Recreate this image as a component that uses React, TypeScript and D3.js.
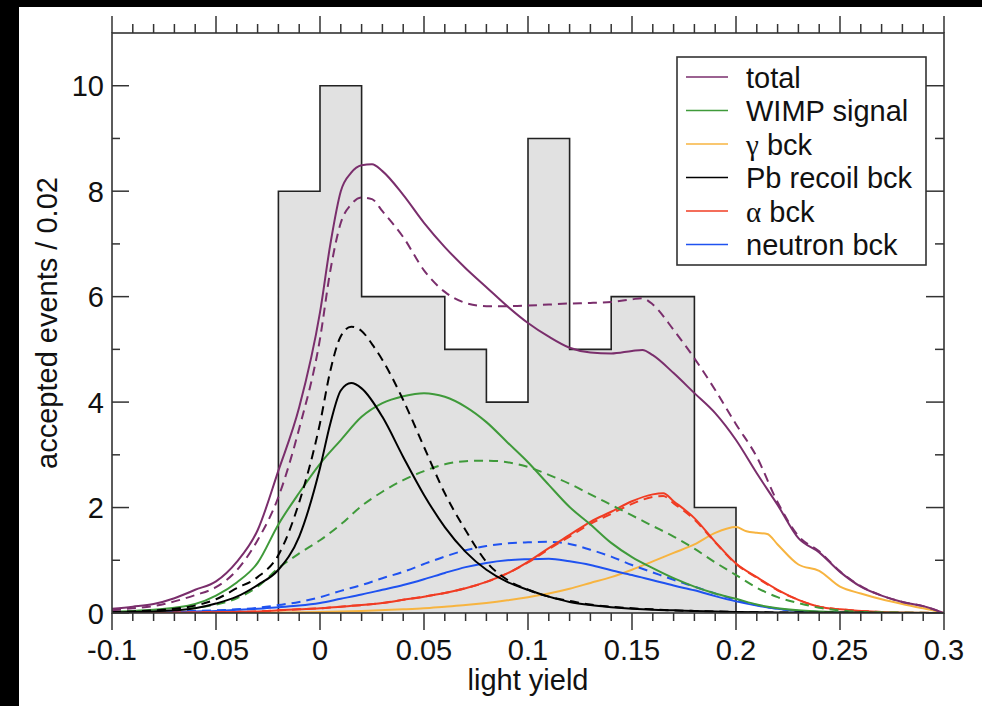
import React, { useEffect, useRef } from "react";
import * as d3 from "d3";

// histogram of accepted events (bin width 0.02)
const binEdges = [-0.02, 0, 0.02, 0.04, 0.06, 0.08, 0.1, 0.12, 0.14, 0.16, 0.18, 0.2];
const binCounts = [8, 10, 6, 6, 5, 4, 9, 5, 6, 6, 2];

type Pt = [number, number];

const totalSolid: Pt[] = [
  [-0.1, 0.08], [-0.09, 0.12], [-0.08, 0.17], [-0.07, 0.28], [-0.06, 0.44], [-0.05, 0.6],
  [-0.04, 0.97], [-0.03, 1.57], [-0.02, 2.7], [-0.01, 3.9], [0, 5.7], [0.005, 7.0],
  [0.01, 8.0], [0.015, 8.35], [0.02, 8.49], [0.025, 8.51], [0.03, 8.38], [0.04, 7.93],
  [0.05, 7.4], [0.06, 6.94], [0.07, 6.54], [0.08, 6.18], [0.09, 5.82], [0.1, 5.5],
  [0.11, 5.24], [0.12, 5.03], [0.13, 4.94], [0.14, 4.92], [0.15, 4.97], [0.155, 4.99],
  [0.16, 4.89], [0.17, 4.55], [0.18, 4.17], [0.19, 3.79], [0.2, 3.28], [0.21, 2.65],
  [0.22, 2.05], [0.23, 1.42], [0.24, 1.15], [0.25, 0.78], [0.26, 0.5], [0.27, 0.33],
  [0.28, 0.21], [0.29, 0.13], [0.3, 0],
];
const totalDashed: Pt[] = [
  [-0.1, 0.05], [-0.09, 0.09], [-0.08, 0.13], [-0.07, 0.22], [-0.06, 0.34], [-0.05, 0.49],
  [-0.04, 0.81], [-0.03, 1.38], [-0.02, 2.2], [-0.01, 3.5], [0, 5.2], [0.005, 6.5],
  [0.01, 7.4], [0.015, 7.75], [0.02, 7.88], [0.025, 7.85], [0.03, 7.62], [0.04, 7.13],
  [0.05, 6.5], [0.06, 6.09], [0.07, 5.88], [0.08, 5.82], [0.09, 5.82], [0.1, 5.83],
  [0.11, 5.85], [0.12, 5.87], [0.13, 5.88], [0.14, 5.9], [0.15, 5.95], [0.155, 5.97],
  [0.16, 5.85], [0.17, 5.37], [0.18, 4.83], [0.19, 4.23], [0.2, 3.58], [0.21, 2.96],
  [0.22, 2.1], [0.23, 1.46], [0.24, 1.17], [0.25, 0.79], [0.26, 0.51], [0.27, 0.33],
  [0.28, 0.21], [0.29, 0.13], [0.3, 0],
];
const wimpSolid: Pt[] = [
  [-0.1, 0.03], [-0.09, 0.04], [-0.08, 0.06], [-0.07, 0.1], [-0.06, 0.17], [-0.05, 0.33],
  [-0.04, 0.58], [-0.03, 0.95], [-0.02, 1.68], [-0.01, 2.28], [0, 2.83], [0.01, 3.28],
  [0.02, 3.72], [0.03, 3.98], [0.04, 4.11], [0.05, 4.17], [0.06, 4.1], [0.07, 3.91],
  [0.08, 3.62], [0.09, 3.24], [0.1, 2.86], [0.11, 2.43], [0.12, 2.01], [0.13, 1.68],
  [0.14, 1.33], [0.15, 1.06], [0.16, 0.85], [0.17, 0.66], [0.18, 0.5], [0.19, 0.37],
  [0.2, 0.27], [0.21, 0.16], [0.22, 0.09], [0.23, 0.05], [0.24, 0.03], [0.25, 0.015],
  [0.26, 0.01], [0.3, 0],
];
const wimpDashed: Pt[] = [
  [-0.1, 0.02], [-0.09, 0.03], [-0.08, 0.04], [-0.07, 0.06], [-0.06, 0.1], [-0.05, 0.16],
  [-0.04, 0.28], [-0.03, 0.5], [-0.02, 0.85], [-0.01, 1.13], [0, 1.38], [0.01, 1.68],
  [0.02, 2.03], [0.03, 2.3], [0.04, 2.52], [0.05, 2.69], [0.06, 2.82], [0.07, 2.88],
  [0.08, 2.89], [0.09, 2.86], [0.1, 2.77], [0.11, 2.62], [0.12, 2.45], [0.13, 2.25],
  [0.14, 2.05], [0.15, 1.85], [0.16, 1.65], [0.17, 1.45], [0.18, 1.22], [0.19, 0.96],
  [0.2, 0.72], [0.21, 0.48], [0.22, 0.3], [0.23, 0.19], [0.24, 0.1], [0.25, 0.05],
  [0.26, 0.02], [0.3, 0],
];
const gammaSolid: Pt[] = [
  [-0.1, 0], [-0.05, 0.005], [-0.02, 0.01], [0, 0.02], [0.02, 0.04], [0.04, 0.07],
  [0.05, 0.09], [0.06, 0.12], [0.07, 0.15], [0.08, 0.19], [0.09, 0.24], [0.1, 0.3],
  [0.11, 0.37], [0.12, 0.46], [0.13, 0.57], [0.14, 0.68], [0.15, 0.82], [0.16, 0.98],
  [0.17, 1.14], [0.18, 1.3], [0.19, 1.52], [0.2, 1.63], [0.205, 1.55], [0.21, 1.52],
  [0.215, 1.5], [0.22, 1.3], [0.23, 0.92], [0.24, 0.8], [0.25, 0.5], [0.26, 0.37],
  [0.27, 0.26], [0.28, 0.17], [0.29, 0.09], [0.3, 0],
];
const pbSolid: Pt[] = [
  [-0.1, 0.01], [-0.09, 0.02], [-0.08, 0.03], [-0.07, 0.05], [-0.06, 0.09], [-0.05, 0.18],
  [-0.04, 0.31], [-0.03, 0.53], [-0.02, 0.82], [-0.01, 1.45], [0, 2.75], [0.005, 3.6],
  [0.01, 4.22], [0.015, 4.36], [0.02, 4.26], [0.03, 3.72], [0.04, 2.96], [0.05, 2.24],
  [0.06, 1.63], [0.07, 1.16], [0.08, 0.82], [0.09, 0.59], [0.1, 0.44], [0.11, 0.31],
  [0.12, 0.21], [0.13, 0.15], [0.14, 0.11], [0.15, 0.08], [0.16, 0.06], [0.17, 0.05],
  [0.18, 0.04], [0.19, 0.03], [0.2, 0.02], [0.22, 0.01], [0.25, 0.005], [0.3, 0],
];
const pbDashed: Pt[] = [
  [-0.1, 0.02], [-0.09, 0.03], [-0.08, 0.05], [-0.07, 0.08], [-0.06, 0.14], [-0.05, 0.26],
  [-0.04, 0.47], [-0.03, 0.68], [-0.02, 1.1], [-0.01, 2.1], [0, 3.6], [0.005, 4.6],
  [0.01, 5.25], [0.015, 5.43], [0.02, 5.35], [0.025, 5.1], [0.03, 4.8], [0.04, 4.04],
  [0.05, 3.15], [0.06, 2.27], [0.07, 1.57], [0.08, 0.97], [0.09, 0.63], [0.1, 0.44],
  [0.11, 0.31], [0.12, 0.23], [0.13, 0.16], [0.14, 0.12], [0.15, 0.09], [0.16, 0.07],
  [0.17, 0.05], [0.18, 0.04], [0.2, 0.02], [0.22, 0.01], [0.3, 0],
];
const alphaSolid: Pt[] = [
  [-0.1, 0], [-0.08, 0.005], [-0.06, 0.01], [-0.04, 0.02], [-0.03, 0.03], [-0.02, 0.05],
  [-0.01, 0.07], [0, 0.09], [0.01, 0.12], [0.02, 0.15], [0.03, 0.19], [0.04, 0.25],
  [0.05, 0.31], [0.06, 0.38], [0.07, 0.47], [0.08, 0.59], [0.09, 0.75], [0.1, 0.97],
  [0.11, 1.23], [0.12, 1.48], [0.13, 1.73], [0.14, 1.92], [0.15, 2.12], [0.16, 2.25],
  [0.165, 2.27], [0.17, 2.12], [0.18, 1.8], [0.19, 1.35], [0.2, 0.94], [0.21, 0.68],
  [0.22, 0.44], [0.23, 0.25], [0.24, 0.12], [0.25, 0.07], [0.26, 0.04], [0.27, 0.02],
  [0.28, 0.01], [0.3, 0],
];
const alphaDashed: Pt[] = [
  [-0.1, 0], [-0.08, 0.005], [-0.06, 0.01], [-0.04, 0.02], [-0.03, 0.03], [-0.02, 0.05],
  [-0.01, 0.07], [0, 0.09], [0.01, 0.12], [0.02, 0.15], [0.03, 0.19], [0.04, 0.25],
  [0.05, 0.31], [0.06, 0.38], [0.07, 0.47], [0.08, 0.59], [0.09, 0.75], [0.1, 0.96],
  [0.11, 1.21], [0.12, 1.45], [0.13, 1.69], [0.14, 1.88], [0.15, 2.07], [0.16, 2.2],
  [0.165, 2.22], [0.17, 2.08], [0.18, 1.77], [0.19, 1.34], [0.2, 0.93], [0.21, 0.67],
  [0.22, 0.43], [0.23, 0.25], [0.24, 0.12], [0.25, 0.07], [0.26, 0.04], [0.27, 0.02],
  [0.28, 0.01], [0.3, 0],
];
const neutronSolid: Pt[] = [
  [-0.1, 0], [-0.09, 0.01], [-0.08, 0.01], [-0.07, 0.02], [-0.06, 0.03], [-0.05, 0.04],
  [-0.04, 0.06], [-0.03, 0.08], [-0.02, 0.11], [-0.01, 0.14], [0, 0.19], [0.01, 0.27],
  [0.02, 0.35], [0.03, 0.44], [0.04, 0.53], [0.05, 0.64], [0.06, 0.76], [0.07, 0.87],
  [0.08, 0.95], [0.09, 1.0], [0.1, 1.02], [0.11, 1.03], [0.12, 0.98], [0.13, 0.91],
  [0.14, 0.81], [0.15, 0.72], [0.16, 0.62], [0.17, 0.52], [0.18, 0.43], [0.19, 0.32],
  [0.2, 0.22], [0.21, 0.14], [0.22, 0.08], [0.23, 0.04], [0.24, 0.02], [0.25, 0.01],
  [0.3, 0],
];
const neutronDashed: Pt[] = [
  [-0.1, 0.01], [-0.09, 0.01], [-0.08, 0.02], [-0.07, 0.03], [-0.06, 0.04], [-0.05, 0.05],
  [-0.04, 0.07], [-0.03, 0.1], [-0.02, 0.15], [-0.01, 0.21], [0, 0.3], [0.01, 0.42],
  [0.02, 0.53], [0.03, 0.66], [0.04, 0.78], [0.05, 0.93], [0.06, 1.07], [0.07, 1.19],
  [0.08, 1.27], [0.09, 1.32], [0.1, 1.34], [0.11, 1.35], [0.12, 1.31], [0.13, 1.2],
  [0.14, 1.07], [0.15, 0.91], [0.16, 0.77], [0.17, 0.63], [0.18, 0.5], [0.19, 0.37],
  [0.2, 0.25], [0.21, 0.15], [0.22, 0.08], [0.23, 0.04], [0.24, 0.02], [0.25, 0.01],
  [0.3, 0],
];

const xTickValues = [-0.1, -0.05, 0, 0.05, 0.1, 0.15, 0.2, 0.25, 0.3];
const xTickLabels = ["-0.1", "-0.05", "0", "0.05", "0.1", "0.15", "0.2", "0.25", "0.3"];
const yTickValues = [0, 2, 4, 6, 8, 10];
const yTickLabels = ["0", "2", "4", "6", "8", "10"];

const legendLabels = ["total", "WIMP signal", "γ bck", "Pb recoil bck", "α bck", "neutron bck"];

const PURPLE = "#7a2e6c";
const GREEN = "#3f9a3a";
const ORANGE = "#f7b440";
const BLACK = "#000000";
const RED = "#f03c23";
const BLUE = "#1f52f0";

const FONT = "'Liberation Sans', Arial, Helvetica, sans-serif";

export default function App() {
  const svgRef = useRef<SVGSVGElement>(null);
  const width = 982;
  const height = 706;

  useEffect(() => {
    const svg = d3.select(svgRef.current);
    svg.selectAll("*").remove();

    const left = 112, right = 944, top = 33, bottom = 613;

    const x = d3.scaleLinear().domain([-0.1, 0.3]).range([left, right]);
    const y = d3.scaleLinear().domain([0, 11]).range([bottom, top]);

    // page background (black strip on left / top like the scan)
    svg.append("rect").attr("width", width).attr("height", height).attr("fill", "#000");
    svg.append("rect").attr("x", 19).attr("y", 7).attr("width", width - 19).attr("height", height - 7).attr("fill", "#fff");

    svg.append("defs").append("clipPath").attr("id", "plotclip")
      .append("rect").attr("x", left).attr("y", top).attr("width", right - left).attr("height", bottom - top);

    // histogram
    const histPts: Pt[] = binCounts.map((c, i) => [binEdges[i], c] as Pt);
    histPts.push([binEdges[binEdges.length - 1], binCounts[binCounts.length - 1]]);
    const histArea = d3.area<Pt>()
      .x(d => x(d[0]))
      .y0(y(0))
      .y1(d => y(d[1]))
      .curve(d3.curveStepAfter);
    svg.append("path").datum(histPts).attr("d", histArea).attr("fill", "#e1e1e1");
    const outline: Pt[] = [[binEdges[0], 0], ...histPts, [binEdges[binEdges.length - 1], 0]];
    const stepLine = d3.line<Pt>().x(d => x(d[0])).y(d => y(d[1])).curve(d3.curveStepAfter);
    svg.append("path").datum(outline).attr("d", stepLine).attr("fill", "none")
      .attr("stroke", "#222").attr("stroke-width", 1.6);

    // model curves
    const series = [
      { data: gammaSolid, color: ORANGE, dashed: false },
      { data: neutronDashed, color: BLUE, dashed: true },
      { data: neutronSolid, color: BLUE, dashed: false },
      { data: alphaSolid, color: RED, dashed: false },
      { data: alphaDashed, color: RED, dashed: true },
      { data: wimpDashed, color: GREEN, dashed: true },
      { data: wimpSolid, color: GREEN, dashed: false },
      { data: pbDashed, color: BLACK, dashed: true },
      { data: pbSolid, color: BLACK, dashed: false },
      { data: totalDashed, color: PURPLE, dashed: true },
      { data: totalSolid, color: PURPLE, dashed: false },
    ];
    const line = d3.line<Pt>().x(d => x(d[0])).y(d => y(d[1])).curve(d3.curveMonotoneX);
    const curves = svg.append("g").attr("clip-path", "url(#plotclip)");
    series.forEach(s => {
      curves.append("path")
        .datum(s.data)
        .attr("d", line)
        .attr("fill", "none")
        .attr("stroke", s.color)
        .attr("stroke-width", 2)
        .attr("stroke-dasharray", s.dashed ? "9,6" : null)
        .attr("stroke-linejoin", "round");
    });

    // frame
    svg.append("rect").attr("x", left).attr("y", top).attr("width", right - left).attr("height", bottom - top)
      .attr("fill", "none").attr("stroke", "#333").attr("stroke-width", 1.6);

    const ticks = svg.append("g").attr("stroke", "#333").attr("stroke-width", 1.5);
    // x ticks point outward, minor every 0.01
    x.ticks(40).forEach(v => {
      const major = xTickValues.some(t => Math.abs(t - v) < 1e-9);
      const px = x(v);
      ticks.append("line").attr("x1", px).attr("x2", px).attr("y1", bottom).attr("y2", bottom + (major ? 17 : 8));
      ticks.append("line").attr("x1", px).attr("x2", px).attr("y1", top).attr("y2", top - (major ? 17 : 9));
    });
    // y ticks point inward, minor every 1
    d3.range(0, 11).forEach(v => {
      const major = yTickValues.includes(v);
      const py = y(v);
      ticks.append("line").attr("x1", left).attr("x2", left + (major ? 17 : 8)).attr("y1", py).attr("y2", py);
      ticks.append("line").attr("x1", right).attr("x2", right - (major ? 18 : 9)).attr("y1", py).attr("y2", py);
    });

    const labels = svg.append("g").attr("font-family", FONT).attr("font-size", 29).attr("fill", "#111");
    xTickValues.forEach((v, i) => {
      labels.append("text").attr("x", x(v)).attr("y", 660).attr("text-anchor", "middle").text(xTickLabels[i]);
    });
    yTickValues.forEach((v, i) => {
      labels.append("text").attr("x", 104).attr("y", y(v) + 10.5).attr("text-anchor", "end").text(yTickLabels[i]);
    });
    labels.append("text").attr("x", (left + right) / 2).attr("y", 690).attr("text-anchor", "middle").text("light yield");
    labels.append("text")
      .attr("transform", `translate(57, ${(top + bottom) / 2}) rotate(-90)`)
      .attr("text-anchor", "middle")
      .text("accepted events / 0.02");

    // legend
    const legendColors = [PURPLE, GREEN, ORANGE, BLACK, RED, BLUE];
    const legend = svg.append("g");
    legend.append("rect").attr("x", 677).attr("y", 57).attr("width", 249).attr("height", 208)
      .attr("fill", "#fff").attr("stroke", "#333").attr("stroke-width", 1.6);
    legendLabels.forEach((lab, i) => {
      const ly = 77 + i * 33.5;
      legend.append("line").attr("x1", 686).attr("x2", 728).attr("y1", ly).attr("y2", ly)
        .attr("stroke", legendColors[i]).attr("stroke-width", 1.3);
      const t = legend.append("text").attr("x", 746).attr("y", ly + 10.5)
        .attr("font-family", FONT).attr("font-size", 29).attr("fill", "#111");
      const first = lab.charAt(0);
      if (first === "γ" || first === "α") {
        t.append("tspan").attr("font-family", "'Liberation Serif', 'DejaVu Serif', serif").text(first);
        t.append("tspan").text(lab.slice(1));
      } else {
        t.text(lab);
      }
    });
  }, []);

  return (
    <svg ref={svgRef} width={width} height={height}
      style={{ position: "absolute", left: 0, top: 0, display: "block" }} />
  );
}
